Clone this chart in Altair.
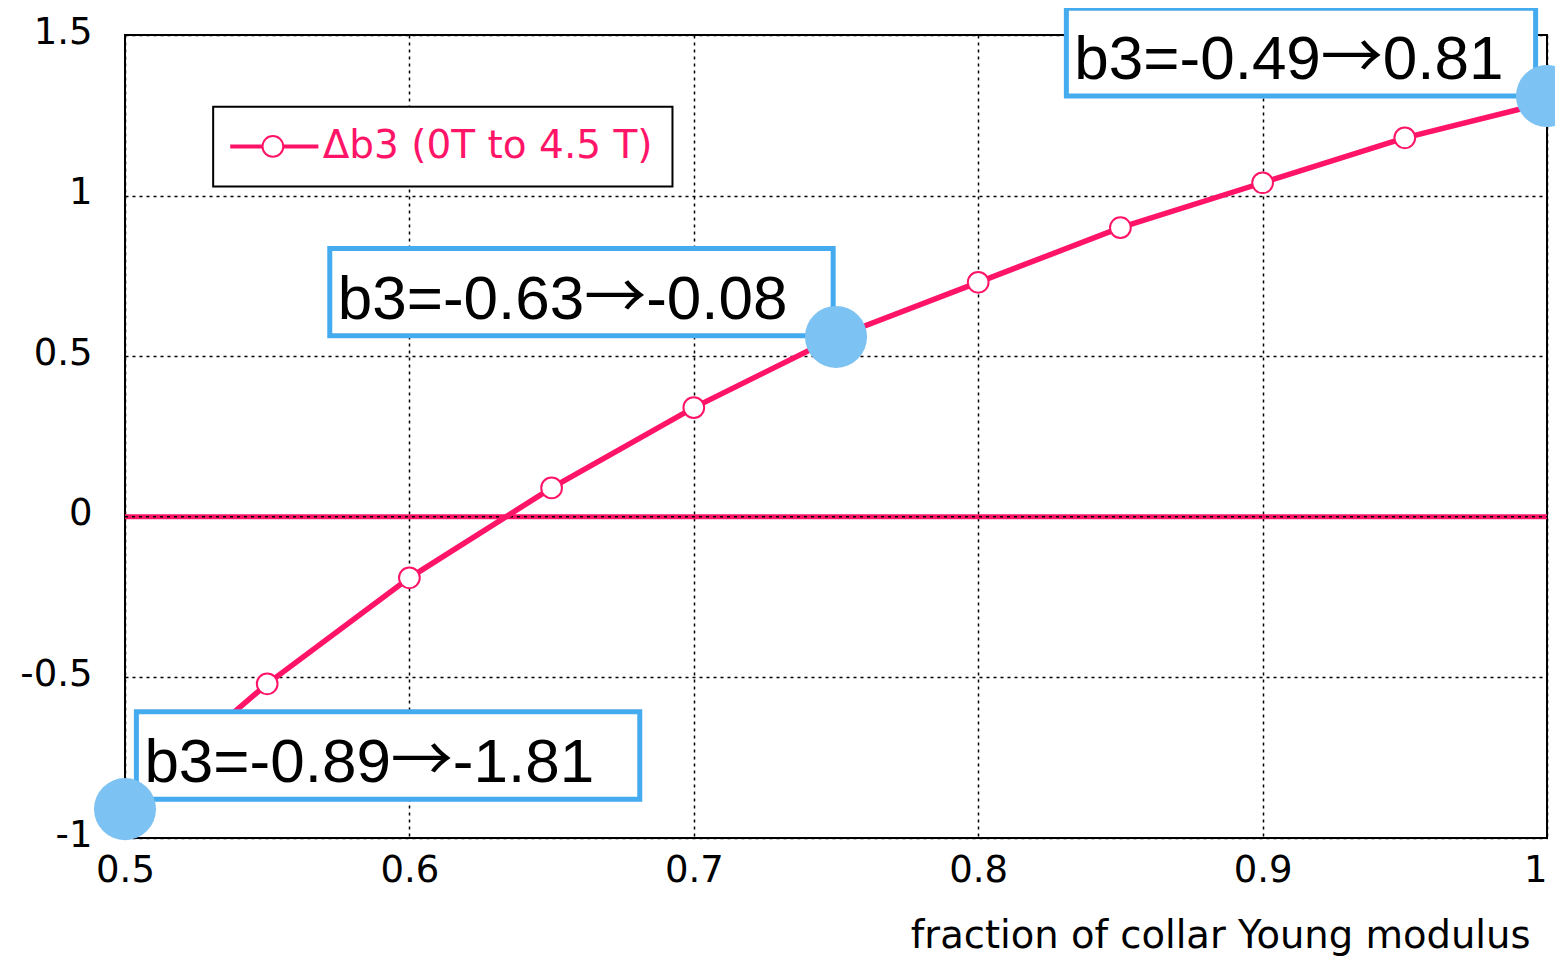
import altair as alt
import pandas as pd

# ---- data ----
frac = [0.50, 0.55, 0.60, 0.65, 0.70, 0.75, 0.80, 0.85, 0.90, 0.95, 1.00]
delta_b3 = [-0.90, -0.52, -0.19, 0.09, 0.34, 0.56, 0.73, 0.90, 1.04, 1.18, 1.29]
series_name = "Δb3 (0T to 4.5 T)"

x_ticks = [0.5, 0.6, 0.7, 0.8, 0.9, 1.0]
y_ticks = [-1.0, -0.5, 0.0, 0.5, 1.0, 1.5]
X_DOMAIN = [0.5, 1.0]
Y_DOMAIN = [-1.0, 1.5]

# highlighted points
hl_x = [0.50, 0.75, 1.00]
hl_y = [-0.91, 0.56, 1.31]

# annotation boxes (data coordinates); text "b3=-0.89→-1.81" etc.
ann_left = ["b3=-0.89", "b3=-0.63", "b3=-0.49"]
ann_arrow = ["→", "→", "→"]
ann_right = ["-1.81", "-0.08", "0.81"]
ann_x1 = [0.504, 0.572, 0.831]
ann_x2 = [0.681, 0.749, 0.996]
ann_y1 = [-0.879, 0.564, 1.310]
ann_y2 = [-0.607, 0.835, 1.583]

# legend box (data coordinates)
leg_x1, leg_x2 = [0.531], [0.6925]
leg_y1, leg_y2 = [1.028], [1.277]
leg_line_x1, leg_line_x2 = [0.537], [0.568]
leg_sym_x = [0.552]
leg_y = [1.153]
leg_text_x = [0.5695]

PINK = "#FF1468"
BLUE_DOT = "#7CC2F2"
BLUE_BOX = "#45ABEF"
FONT = "DejaVu Sans"
ANN_SIZE = 62

df = pd.DataFrame({"x": frac, "y": delta_b3})
hl = pd.DataFrame({"x": hl_x, "y": hl_y})
ann = pd.DataFrame({"x": ann_x1, "x2": ann_x2, "y": ann_y1, "y2": ann_y2,
                    "l": ann_left, "a": ann_arrow, "r": ann_right})
leg = pd.DataFrame({"x": leg_x1, "x2": leg_x2, "y": leg_y1, "y2": leg_y2})
legline = pd.DataFrame({"x": leg_line_x1, "x2": leg_line_x2, "y": leg_y})
legsym = pd.DataFrame({"x": leg_sym_x, "y": leg_y})
legtxt = pd.DataFrame({"x": leg_text_x, "y": leg_y, "t": [series_name]})
frame = pd.DataFrame({"x": [X_DOMAIN[0]], "x2": [X_DOMAIN[1]], "y": [Y_DOMAIN[0]], "y2": [Y_DOMAIN[1]]})
zero = pd.DataFrame({"x": [X_DOMAIN[0]], "x2": [X_DOMAIN[1]], "y": [0.0]})

xscale = alt.Scale(domain=X_DOMAIN, nice=False, zero=False)
yscale = alt.Scale(domain=Y_DOMAIN, nice=False, zero=False)

xaxis = alt.Axis(
    values=x_ticks, labelExpr="'' + datum.value", grid=True, gridDash=[3, 4],
    gridColor="black", gridWidth=1.5, gridOpacity=1, domain=False, ticks=False,
    labelFont=FONT, labelFontSize=37, labelColor="black", labelPadding=14,
    labelFlush=False,
    labelAlign={"condition": {"test": "datum.value == 1", "value": "right"}, "value": "center"},
    title="fraction of collar Young modulus", titleFont=FONT, titleFontSize=38.5,
    titleFontWeight="normal", titleColor="black", titleAlign="right",
    titleBaseline="alphabetic", titleX=1405, titleY=109,
)
yaxis = alt.Axis(
    values=y_ticks, labelExpr="'' + datum.value", grid=True, gridDash=[3, 4],
    gridColor="black", gridWidth=1.5, gridOpacity=1, domain=False, ticks=False,
    labelFont=FONT, labelFontSize=37, labelColor="black", labelPadding=33,
    labelOffset=-3, labelFlush=False, title=None,
)


def X(f="x"):
    return alt.X(f, type="quantitative", scale=xscale, axis=xaxis)


def Y(f="y"):
    return alt.Y(f, type="quantitative", scale=yscale, axis=yaxis)


frame_l = alt.Chart(frame).mark_rect(fillOpacity=0, stroke="black", strokeWidth=2).encode(
    x=X(), x2="x2", y=Y(), y2="y2")

zero_pink = alt.Chart(zero).mark_rule(color=PINK, strokeWidth=5).encode(x=X(), x2="x2", y=Y())
zero_dot = alt.Chart(zero).mark_rule(color="black", strokeWidth=1.5, strokeDash=[3, 4]).encode(
    x=X(), x2="x2", y=Y())

line = alt.Chart(df).mark_line(color=PINK, strokeWidth=5.5).encode(x=X(), y=Y())
pts = alt.Chart(df).mark_point(shape="circle", filled=True, fill="white", stroke=PINK,
                                strokeWidth=2, size=430, opacity=1).encode(x=X(), y=Y())

leg_box = alt.Chart(leg).mark_rect(fill="white", stroke="black", strokeWidth=2).encode(
    x=X(), x2="x2", y=Y(), y2="y2")
leg_line = alt.Chart(legline).mark_rule(color=PINK, strokeWidth=4).encode(x=X(), x2="x2", y=Y())
leg_sym = alt.Chart(legsym).mark_point(shape="circle", filled=True, fill="white", stroke=PINK,
                                       strokeWidth=2, size=430, opacity=1).encode(x=X(), y=Y())
leg_txt = alt.Chart(legtxt).mark_text(align="left", baseline="middle", font=FONT, fontSize=39,
                                      color=PINK).encode(x=X(), y=Y(), text="t")

boxes = alt.Chart(ann).mark_rect(fill="white", stroke=BLUE_BOX, strokeWidth=5).encode(
    x=X(), x2="x2", y=Y(), y2="y2")
# "b3=-0.xx" in Liberation Sans is 3.975 em wide
left_w = 3.975 * ANN_SIZE
txt_l = alt.Chart(ann).mark_text(align="left", baseline="alphabetic", dx=8, dy=-17,
                                 font="Liberation Sans", fontSize=ANN_SIZE, color="black").encode(
    x=X(), y=Y(), text="l")
txt_a = alt.Chart(ann).mark_text(align="left", baseline="alphabetic", dx=8 + left_w, dy=-17,
                                 font="Noto Sans CJK SC", fontSize=ANN_SIZE, color="black").encode(
    x=X(), y=Y(), text="a")
txt_r = alt.Chart(ann).mark_text(align="left", baseline="alphabetic", dx=8 + left_w + ANN_SIZE,
                                 dy=-17, font="Liberation Sans", fontSize=ANN_SIZE,
                                 color="black").encode(x=X(), y=Y(), text="r")

dots = alt.Chart(hl).mark_circle(color=BLUE_DOT, opacity=1, size=3850).encode(x=X(), y=Y())

chart = alt.layer(
    frame_l, zero_pink, zero_dot, line, pts, leg_box, leg_line, leg_sym, leg_txt,
    boxes, txt_l, txt_a, txt_r, dots,
).properties(
    width=1422, height=803,
    autosize=alt.AutoSizeParams(type="none"),
    padding={"left": 117, "top": 27, "right": 8, "bottom": 120},
).configure_view(stroke=None).configure(background="white")

chart.save("out.html", embed_options={"renderer": "svg", "actions": False})
